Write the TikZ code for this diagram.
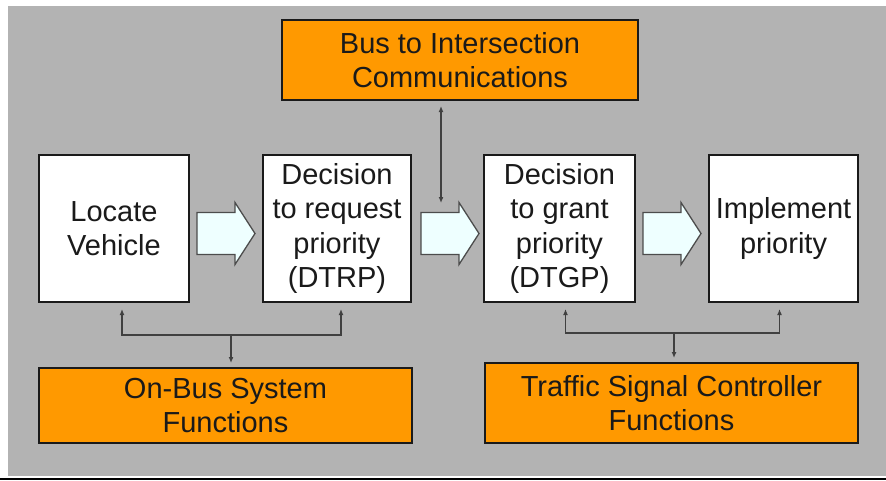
\documentclass[tikz,border=0pt]{standalone}
\usepackage{fontspec}
\setmainfont{Liberation Sans}
\usetikzlibrary{arrows.meta,calc}

\definecolor{panelgray}{HTML}{B3B3B3}
\definecolor{busorange}{HTML}{FF9900}
\definecolor{arrowfill}{HTML}{EEFFFF}
\definecolor{inkdark}{HTML}{1A1A1A}

\tikzset{
    stagebox/.style={draw=inkdark,line width=2pt,fill=white,inner sep=0pt,
        align=center,text=inkdark,font=\fontsize{29}{34.5}\selectfont},
    funcbox/.style={stagebox,fill=busorange},
    blockarrow/.style={draw=black!70,line width=1.3pt,fill=arrowfill,line join=miter},
    link/.style={draw=black!75,line width=1.4pt,{Latex[length=6pt,width=5pt]}-{Latex[length=6pt,width=5pt]}},
    drop/.style={draw=black!75,line width=1.4pt,-{Latex[length=6pt,width=5pt]}}
}

\begin{document}
\begin{tikzpicture}[x=1pt,y=-1pt]
    \useasboundingbox (0,0) rectangle (886,480);
    \fill[white] (0,0) rectangle (886,480);
    \fill[panelgray] (8,6) rectangle (886,476);
    \fill[black] (0,478) rectangle (886,480);

    \node[funcbox,minimum width=356pt,minimum height=80pt] (bus) at (460,60) {Bus to Intersection\\Communications};
    \node[stagebox,minimum width=150pt,minimum height=147pt] (locate) at (114,228.5) {Locate\\Vehicle};
    \node[stagebox,minimum width=148pt,minimum height=147pt] (dtrp) at (337,228.5) {Decision\\to request\\priority\\(DTRP)};
    \node[stagebox,minimum width=151pt,minimum height=147pt] (dtgp) at (559.5,228.5) {Decision\\to grant\\priority\\(DTGP)};
    \node[stagebox,minimum width=149pt,minimum height=147pt] (implement) at (783.5,228.5) {Implement\\priority};
    \node[funcbox,minimum width=373pt,minimum height=75pt] (onbus) at (225.5,405.5) {On-Bus System\\Functions};
    \node[funcbox,minimum width=373pt,minimum height=80pt] (tsc) at (671.5,403) {Traffic Signal Controller\\Functions};

    % flow arrows between the stages
    \foreach \ax in {197,421,643}
        \draw[blockarrow] (\ax,212.5) -- ++(38,0) -- ++(0,-10) -- ++(20,31) -- ++(-20,31) -- ++(0,-10) -- ++(-38,0) -- cycle;

    \coordinate (commend) at (441,203);
    \coordinate (onbusjoin) at (231,335);
    \coordinate (tscjoin) at (674,333);

    \draw[link] ([xshift=-19pt,yshift=-5pt]bus.south) -- (commend);
    \draw[link] ([xshift=8pt,yshift=-6pt]locate.south) |- (onbusjoin) -| ([xshift=4pt,yshift=-6pt]dtrp.south);
    \draw[drop] (onbusjoin) -- ($(onbusjoin |- onbus.north)+(0,-4)$);
    \draw[link] ([xshift=6pt,yshift=-6pt]dtgp.south) |- (tscjoin) -| ([xshift=-4pt,yshift=-6pt]implement.south);
    \draw[drop] (tscjoin) -- ($(tscjoin |- tsc.north)+(0,-4)$);
\end{tikzpicture}
\end{document}
